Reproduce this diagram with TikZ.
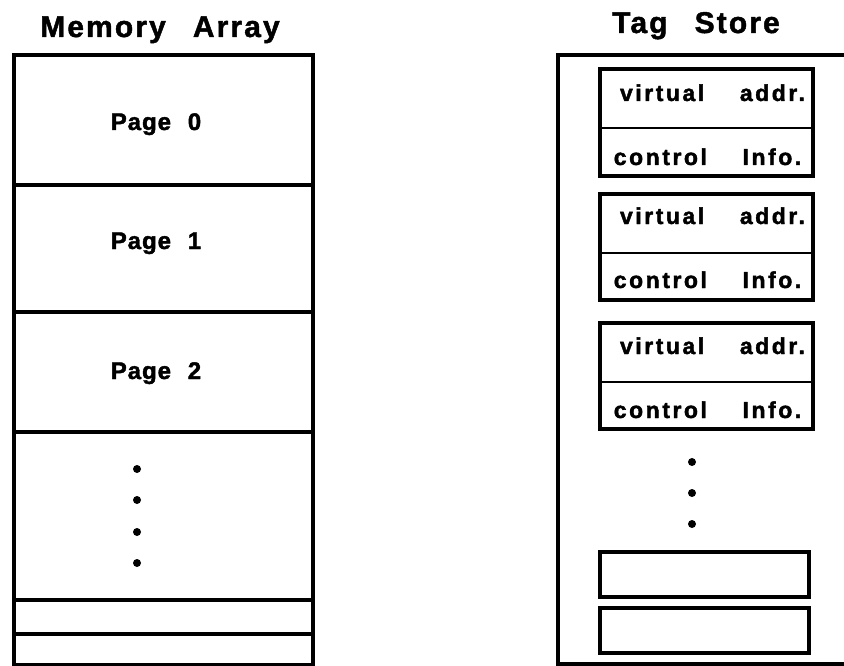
\documentclass[tikz,border=0pt]{standalone}
\usepackage{fontspec}
\setmainfont{Liberation Sans}
% heavy, tracked sans for all labels
\newfontfamily\headfont{Liberation Sans}[LetterSpace=7,WordSpace=2.6,FakeBold=1.5]
\newfontfamily\pagefont{Liberation Sans}[LetterSpace=4,WordSpace=2.2,FakeBold=1.8]
\newfontfamily\cellfont{Liberation Sans}[LetterSpace=11,WordSpace=4,FakeBold=1.8]

\begin{document}
\begin{tikzpicture}[x=1pt,y=-1pt,
  membox/.style={draw, line width=4pt, rectangle, inner sep=0pt, minimum width=299pt},
  tagbox/.style={draw, line width=4pt, rectangle, inner sep=0pt, minimum width=213pt},
  slotbox/.style={draw, line width=4pt, rectangle, inner sep=0pt, minimum width=209pt, minimum height=45pt},
  tagdiv/.style={line width=2pt},
  frame/.style={line width=4pt},
  title/.style={anchor=base, inner sep=0pt, font=\headfont\fontsize{30pt}{32pt}\selectfont\bfseries},
  pagetxt/.style={anchor=base, inner sep=0pt, font=\pagefont\fontsize{24pt}{26pt}\selectfont\bfseries},
  tagtxt/.style={anchor=base, inner sep=0pt, font=\cellfont\fontsize{23pt}{25pt}\selectfont\bfseries},
  dot/.style={circle, fill=black, inner sep=0pt, minimum size=8pt}
]
\useasboundingbox (0,0) rectangle (844,666);

% ---- Memory array ----
\node[title] (mtitle) at (160,37) {Memory Array};
\node[membox, minimum height=130pt] (m0) at (163.5,120) {};
\node[membox, minimum height=127pt] (m1) at (163.5,248.5) {};
\node[membox, minimum height=120pt] (m2) at (163.5,372) {};
\node[membox, minimum height=168pt] (m3) at (163.5,516) {};
\node[membox, minimum height=34pt] (m4) at (163.5,617) {};
\node[membox, minimum height=31pt] (m5) at (163.5,649.5) {};

\node[pagetxt] (p0) at (156,130) {Page 0};
\node[pagetxt] (p1) at (156,249) {Page 1};
\node[pagetxt] (p2) at (156,379) {Page 2};

\node[dot] (md1) at (137,469) {};
\node[dot] (md2) at (137,500) {};
\node[dot] (md3) at (137,532) {};
\node[dot] (md4) at (137,563) {};

% ---- Tag store ----
\node[title] (ttitle) at (696,33) {Tag Store};
\coordinate (tstr) at (846,55);
\coordinate (tsbl) at (558,664);
\coordinate (tsbr) at (846,664);
\draw[frame] (tstr) -| (tsbl) -- (tsbr);

\node[tagbox, minimum height=107pt] (t1) at (706.5,122.5) {};
\node[tagbox, minimum height=106pt] (t2) at (706.5,247) {};
\node[tagbox, minimum height=106pt] (t3) at (706.5,376) {};

\coordinate (d1) at (0,128);
\coordinate (d2) at (0,253);
\coordinate (d3) at (0,382);
\draw[tagdiv] (t1.west |- d1) -- (t1.east |- d1);
\draw[tagdiv] (t2.west |- d2) -- (t2.east |- d2);
\draw[tagdiv] (t3.west |- d3) -- (t3.east |- d3);

\node[tagtxt] (va1) at (712.5,101) {virtual addr.};
\node[tagtxt] (ci1) at (707.5,165) {control Info.};
\node[tagtxt] (va2) at (712.5,224) {virtual addr.};
\node[tagtxt] (ci2) at (707.5,288) {control Info.};
\node[tagtxt] (va3) at (712.5,354) {virtual addr.};
\node[tagtxt] (ci3) at (707.5,418) {control Info.};

\node[dot] (td1) at (692,462) {};
\node[dot] (td2) at (692,493) {};
\node[dot] (td3) at (692,524) {};

\node[slotbox] (s1) at (704.5,574.5) {};
\node[slotbox] (s2) at (704.5,630.5) {};
\end{tikzpicture}
\end{document}
